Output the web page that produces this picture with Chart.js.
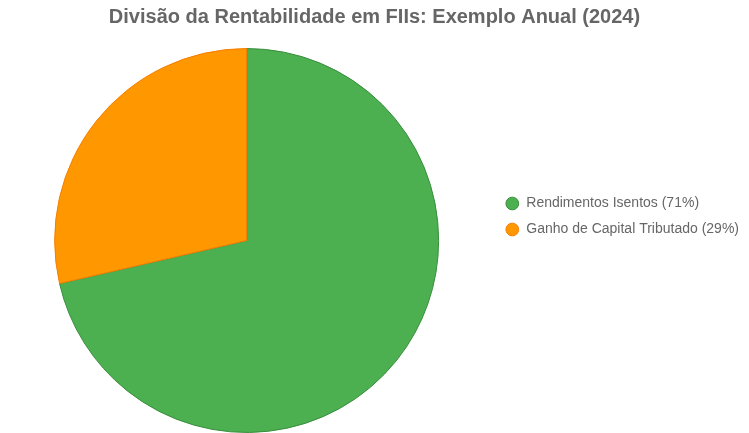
<!DOCTYPE html>
<html>
<head>
<meta charset="utf-8">
<script src="https://cdn.jsdelivr.net/npm/chart.js@4"></script>
<style>
html,body{margin:0;padding:0;background:#fff;}
#wrap{width:749px;height:433px;position:relative;}
</style>
</head>
<body>
<div id="wrap"><canvas id="c"></canvas></div>
<script>
const titleText = "Divisão da Rentabilidade em FIIs: Exemplo Anual (2024)";
const categories = ["Rendimentos Isentos (71%)", "Ganho de Capital Tributado (29%)"];
const values = [71.4, 28.6];
const fillColors = ["#4CAF50", "#FF9800"];
const borderColors = ["#388E3C", "#F57C00"];

Chart.defaults.font.family = "'Liberation Sans', Arial, sans-serif";
new Chart(document.getElementById('c'), {
  type: 'pie',
  data: {
    labels: categories,
    datasets: [{
      data: values,
      backgroundColor: fillColors,
      borderColor: borderColors,
      borderWidth: 1
    }]
  },
  options: {
    responsive: true,
    maintainAspectRatio: false,
    animation: false,
    plugins: {
      title: {
        display: true,
        text: titleText,
        color: '#666',
        font: { size: 20, weight: 'bold' },
        padding: { top: 5, bottom: 19 }
      },
      legend: {
        position: 'right',
        labels: {
          usePointStyle: true,
          pointStyle: 'circle',
          boxHeight: 9,
          padding: 12,
          color: '#666',
          font: { size: 14 }
        }
      },
      tooltip: { enabled: false }
    }
  }
});
</script>
</body>
</html>
